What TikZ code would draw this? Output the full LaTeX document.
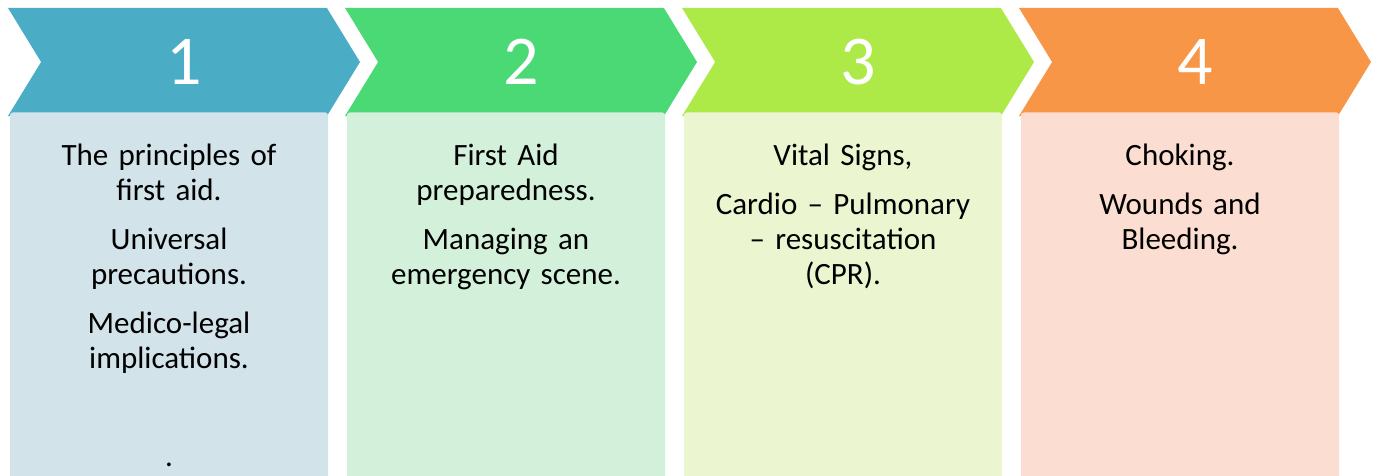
\documentclass[tikz,border=0pt]{standalone}
\usepackage{fontspec}
\setmainfont{Carlito}
\usetikzlibrary{shapes.symbols,positioning}
\definecolor{aqua}{HTML}{4BACC6}
\definecolor{leaf}{HTML}{4AD975}
\definecolor{lime}{HTML}{ADEA48}
\definecolor{tangerine}{HTML}{F79646}
\definecolor{aquapale}{HTML}{D2E3EA}
\definecolor{leafpale}{HTML}{D3F0DA}
\definecolor{limepale}{HTML}{EBF6D1}
\definecolor{tangerinepale}{HTML}{FBDED1}
\tikzstyle{chev} = [shape=signal, signal from=west, signal to=east, signal pointer angle=117,
minimum width=352pt, minimum height=108pt, inner sep=0pt, text=white, font=\fontsize{70}{84}\selectfont]
\tikzstyle{card} = [rectangle, rounded corners=3pt, minimum width=318pt, minimum height=380pt]
\tikzstyle{body} = [text width=300pt, align=center, inner sep=0pt, font=\fontsize{31}{35}\selectfont]

\begin{document}
\begin{tikzpicture}[x=1pt, y=1pt, node distance=337pt]
\useasboundingbox (0,0) rectangle (1375,475);
\node (c1)[chev, fill=aqua] at (184,413) {1};
\node (c2)[chev, fill=leaf, right of=c1]{2};
\node (c3)[chev, fill=lime, right of=c2]{3};
\node (c4)[chev, fill=tangerine, right of=c3]{4};

\node (b1)[card, fill=aquapale, below=-4pt of c1, xshift=-15pt]{};
\node (b2)[card, fill=leafpale, below=-4pt of c2, xshift=-15pt]{};
\node (b3)[card, fill=limepale, below=-4pt of c3, xshift=-15pt]{};
\node (b4)[card, fill=tangerinepale, below=-4pt of c4, xshift=-15pt]{};

\node (t1)[body, below=31.5pt of b1.north]{The principles of\\first aid.\\[14pt]Universal\\precautions.\\[14pt]Medico-legal\\implications.\\[14pt]\mbox{}\\[14pt].};
\node (t2)[body, below=31.5pt of b2.north]{First Aid\\preparedness.\\[14pt]Managing an\\emergency scene.};
\node (t3)[body, below=31.5pt of b3.north]{Vital Signs,\\[14pt]Cardio – Pulmonary\\– resuscitation\\(CPR).};
\node (t4)[body, below=31.5pt of b4.north]{Choking.\\[14pt]Wounds and\\Bleeding.};
\end{tikzpicture}
\end{document}
